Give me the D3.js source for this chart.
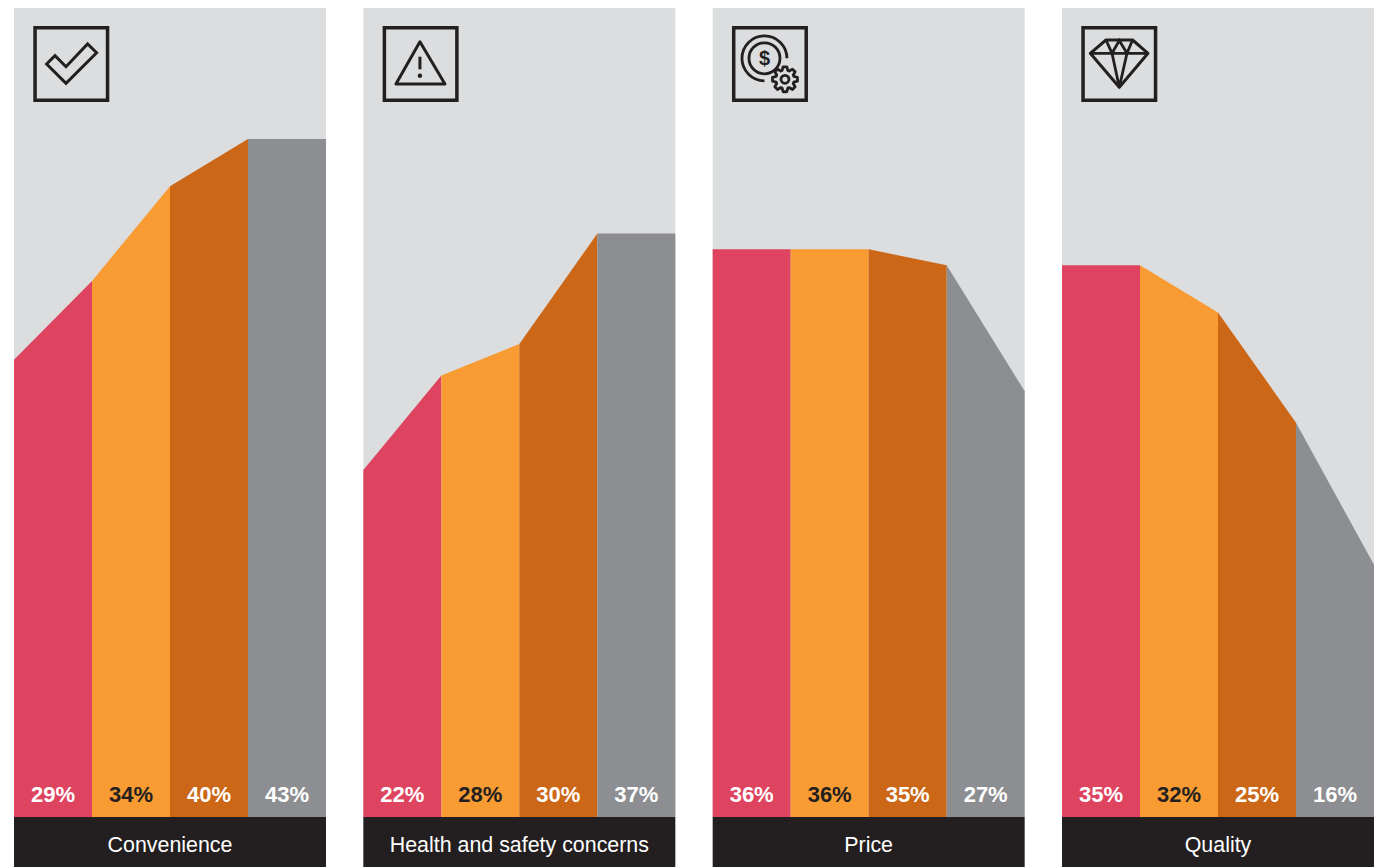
<!DOCTYPE html>
<html><head><meta charset="utf-8">
<script src="https://cdn.jsdelivr.net/npm/d3@7"></script>
<style>html,body{margin:0;padding:0;background:#fff}svg{display:block}text{font-family:"Liberation Sans",Arial,sans-serif}</style>
</head><body><div id="c"></div>
<script>
const categories = ["Convenience","Health and safety concerns","Price","Quality"];
const convenienceLabels = [29,34,40,43];
const healthLabels = [22,28,30,37];
const priceLabels = [36,36,35,27];
const qualityLabels = [35,32,25,16];
// height of the area at each of the five band edges, as drawn in the picture
const convenienceEdges = [29,34,40,43,43];
const healthEdges = [22,28,30,37,37];
const priceEdges = [36,36,36,35,27];
const qualityEdges = [35,35,32,25,16];
const labelsBy = [convenienceLabels,healthLabels,priceLabels,qualityLabels];
const edgesBy = [convenienceEdges,healthEdges,priceEdges,qualityEdges];
const bandColors = ["#DE445F","#F99B33","#CB6717","#8D8E91"];
const labelColors = ["#fff","#231F20","#fff","#fff"];

const W=1379,H=867;
const svg=d3.select("#c").append("svg").attr("width",W).attr("height",H);
const panelX=d3.scaleBand().domain(categories).range([14,1374]).paddingInner(0.10687).paddingOuter(0);
const y=d3.scaleLinear().domain([0,43]).range([817,139]);
const ink="#231F20";

const icons=[
 g=>{g.append("path").attr("d",d3.line()([[13.3,38],[21.7,29.7],[32.7,40.7],[54.3,18],[63.3,26.7],[32.7,57.3]])+"Z").attr("stroke-width",3);},
 g=>{g.append("path").attr("d",d3.line()([[37.3,15.7],[13.3,58],[62.3,58]])+"Z").attr("stroke-width",3).attr("stroke-linejoin","round");
     g.append("path").attr("d","M37.3,30.7V43.3").attr("stroke-width",3);
     g.append("circle").attr("cx",37.3).attr("cy",49.7).attr("r",2.2).attr("fill",ink).attr("stroke","none");},
 g=>{const cx=32.5,cy=32.3;
     g.append("circle").attr("cx",cx).attr("cy",cy).attr("r",15.5).attr("stroke-width",2.8);
     g.append("path").attr("transform",`translate(${cx},${cy})`).attr("stroke-width",2.8)
      .attr("d",d3.arc()({innerRadius:22.5,outerRadius:22.5,startAngle:Math.PI/2,endAngle:-Math.PI}));
     g.append("text").attr("x",cx).attr("y",cy+7).attr("text-anchor","middle").attr("font-size",20).attr("font-weight",700)
      .attr("fill",ink).attr("stroke","none").text("$");
     const gx=53,gy=53.3,n=8,pts=[];
     for(let i=0;i<n;i++){const a=i*2*Math.PI/n;const s=0.2;
       pts.push([a-s*1.55,9.3],[a-s*0.75,12.6],[a+s*0.75,12.6],[a+s*1.55,9.3]);}
     g.append("path").attr("transform",`translate(${gx},${gy})`).attr("stroke-width",2.8).attr("stroke-linejoin","round")
      .attr("fill","#DCDDDF")
      .attr("d",d3.lineRadial().curve(d3.curveLinearClosed)(pts));
     g.append("circle").attr("cx",gx).attr("cy",gy).attr("r",4).attr("stroke-width",2.8);},
 g=>{g.append("path").attr("stroke-width",3).attr("stroke-linejoin","round")
      .attr("d",d3.line()([[24.7,14],[51.3,14],[66.7,27.3],[38,61.3],[9,27.3]])+"Z");
     g.append("path").attr("stroke-width",2.8).attr("d","M9,27.3H66.7M24.7,14L30.7,27.3L38,61.3L45.7,27.3L51.3,14M30.7,27.3L38,14.5L45.7,27.3");}
];

categories.forEach((cat,p)=>{
  const px=panelX(cat),pw=panelX.bandwidth();
  const g=svg.append("g");
  g.append("rect").attr("x",px).attr("y",8).attr("width",pw).attr("height",809).attr("fill","#DCDDDF");
  const x=d3.scaleLinear().domain([0,4]).range([px,px+pw]);
  const area=d3.area().x(d=>x(d.i)).y0(y(0)).y1(d=>y(d.v));
  labelsBy[p].forEach((lab,i)=>{
    const pts=[{i:i,v:edgesBy[p][i]},{i:i+1,v:edgesBy[p][i+1]}];
    g.append("path").attr("d",area(pts)).attr("fill",bandColors[i]);
    g.append("text").attr("x",x(i+0.5)).attr("y",802).attr("text-anchor","middle")
     .attr("font-size",22).attr("font-weight",700).attr("fill",labelColors[i]).text(lab+"%");
  });
  g.append("rect").attr("x",px).attr("y",817).attr("width",pw).attr("height",50).attr("fill",ink);
  g.append("text").attr("x",px+pw/2).attr("y",852).attr("text-anchor","middle").attr("font-size",21.4).attr("fill","#fff").text(cat);
  const ic=g.append("g").attr("transform",`translate(${px+19.3},26)`).attr("fill","none").attr("stroke",ink);
  ic.append("rect").attr("x",1.75).attr("y",1.75).attr("width",72.5).attr("height",72.5).attr("stroke-width",3.5);
  icons[p](ic);
});
</script></body></html>
